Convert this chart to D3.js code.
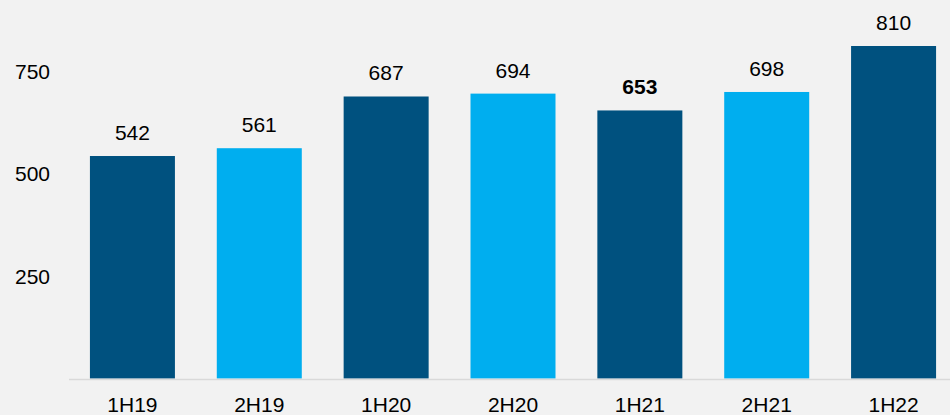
<!DOCTYPE html>
<html>
<head>
<meta charset="utf-8">
<script src="https://cdn.jsdelivr.net/npm/d3@7"></script>
<style>
  html, body { margin: 0; padding: 0; background: #f2f2f2; }
  svg { display: block; }
  text { font-family: "Liberation Sans", Arial, sans-serif; fill: #000; }
</style>
</head>
<body>
<svg id="chart" width="950" height="415"></svg>
<script>
const categories = ["1H19", "2H19", "1H20", "2H20", "1H21", "2H21", "1H22"];
const values = [542, 561, 687, 694, 653, 698, 810];
const barShades = ["dark", "light", "dark", "light", "dark", "light", "dark"];
const boldLabels = ["1H21"];
const yTicks = [250, 500, 750];

const W = 950, H = 415;
const svg = d3.select("#chart");
svg.append("rect").attr("width", W).attr("height", H).attr("fill", "#f2f2f2");

const x = d3.scaleBand().domain(categories).range([69, 957]).paddingInner(0.33).paddingOuter(0.165);
const y = d3.scaleLinear().domain([0, 810]).range([378.5, 46]);

const colors = { dark: "#00517f", light: "#00aeef" };

// y tick labels
const yAxis = d3.axisLeft(y).tickValues(yTicks).tickSize(0).tickPadding(0);
const gy = svg.append("g").attr("transform", "translate(50,0)").call(yAxis);
gy.select(".domain").remove();
gy.selectAll("text").attr("font-size", 21).attr("font-family", "Liberation Sans, Arial, sans-serif").attr("fill", "#000").attr("dy", "0.36em");

// bars
svg.selectAll("rect.bar").data(categories).enter().append("rect")
  .attr("class", "bar")
  .attr("x", d => x(d))
  .attr("width", x.bandwidth())
  .attr("y", (d, i) => y(values[i]))
  .attr("height", (d, i) => y(0) - y(values[i]))
  .attr("fill", (d, i) => colors[barShades[i]]);

// baseline
svg.append("line").attr("x1", 69).attr("x2", 950).attr("y1", y(0) + 1).attr("y2", y(0) + 1)
  .attr("stroke", "#d9d9d9").attr("stroke-width", 1.5);

// value labels
svg.selectAll("text.val").data(categories).enter().append("text")
  .attr("class", "val")
  .attr("x", d => x(d) + x.bandwidth() / 2)
  .attr("y", (d, i) => y(values[i]) - 16)
  .attr("text-anchor", "middle")
  .attr("font-size", 21)
  .attr("font-weight", d => boldLabels.includes(d) ? "bold" : "normal")
  .text((d, i) => values[i]);

// x axis labels
const xAxis = d3.axisBottom(x).tickSize(0).tickPadding(0);
const gx = svg.append("g").attr("transform", "translate(0,397)").call(xAxis);
gx.select(".domain").remove();
gx.selectAll("text").attr("font-size", 21).attr("font-family", "Liberation Sans, Arial, sans-serif").attr("fill", "#000").attr("dy", "0.72em");
</script>
</body>
</html>
